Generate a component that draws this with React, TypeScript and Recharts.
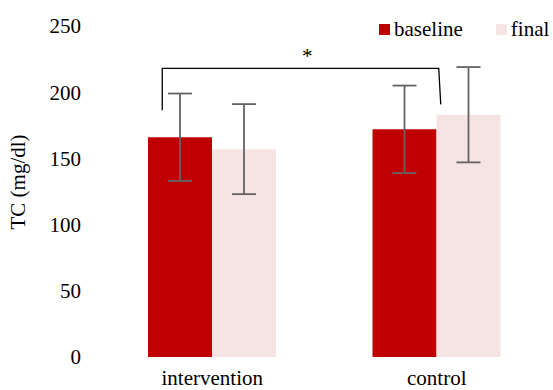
import { BarChart, Bar, XAxis, YAxis, ErrorBar, Legend, Label, ReferenceLine } from 'recharts';

const categories = ['intervention', 'control'];
const baseline = [166, 172];
const baselineErr = [33, 33];
const finalValues = [157, 183];
const finalErr = [34, 36];
const yTicks = [0, 50, 100, 150, 200, 250];
const bracketLevel = 218;

const data = categories.map((name, i) => ({
  name,
  baseline: baseline[i],
  baselineErr: baselineErr[i],
  final: finalValues[i],
  finalErr: finalErr[i],
}));

const FONT = '"Liberation Serif", "Times New Roman", serif';
const RED = '#C00000';
const PINK = '#F6E3E3';
const ERR = '#636363';

function Bracket(props: any) {
  const { x1, y1, x2 } = props;
  const left = x1 - 50;
  const right = x2 + 2;
  return (
    <g>
      <path
        d={`M${left},${y1 + 42} L${left},${y1} L${right},${y1} L${right + 2},${y1 + 36}`}
        fill="none"
        stroke="#000"
        strokeWidth={1.3}
      />
      <text x={left + 145} y={y1 - 5} textAnchor="middle" fontFamily={FONT} fontSize={21} fill="#000">
        *
      </text>
    </g>
  );
}

function LegendBox() {
  const item = (color: string, label: string, gap: number) => (
    <div style={{ display: 'flex', alignItems: 'center', marginRight: gap }}>
      <div style={{ width: 11, height: 11, background: color, marginRight: 4 }} />
      <span style={{ fontFamily: FONT, fontSize: 21, lineHeight: '21px', color: '#000' }}>{label}</span>
    </div>
  );
  return (
    <div style={{ display: 'flex', alignItems: 'center' }}>
      {item(RED, 'baseline', 33)}
      {item(PINK, 'final', 0)}
    </div>
  );
}

export default function App() {
  return (
    <div style={{ position: 'absolute', left: 0, top: 0, width: 553, height: 390, background: '#fff' }}>
      <BarChart
        width={553}
        height={390}
        data={data}
        margin={{ top: 26, right: 4, bottom: 0, left: 0 }}
        barGap={0}
        barSize={64}
      >
        <XAxis
          dataKey="name"
          axisLine={false}
          tickLine={false}
          tickSize={0}
          tickMargin={13}
          height={33}
          tick={{ fontFamily: FONT, fontSize: 21, fill: '#000' }}
        />
        <YAxis
          width={100}
          domain={[0, 250]}
          ticks={yTicks}
          axisLine={false}
          tickLine={false}
          tickSize={0}
          tickMargin={19}
          tick={{ fontFamily: FONT, fontSize: 21, fill: '#000' }}
        >
          <Label
            content={() => (
              <text
                x={18}
                y={182}
                transform="rotate(-90 18 182)"
                textAnchor="middle"
                dominantBaseline="central"
                fontFamily={FONT}
                fontSize={21}
                fill="#000"
              >
                TC (mg/dl)
              </text>
            )}
          />
        </YAxis>
        <Legend
          layout="vertical"
          align="center"
          verticalAlign="middle"
          content={() => <LegendBox />}
          wrapperStyle={{ top: 19, left: 379, width: 'auto', height: 'auto' }}
        />
        <Bar dataKey="baseline" fill={RED} isAnimationActive={false}>
          <ErrorBar dataKey="baselineErr" width={12} stroke={ERR} strokeWidth={1.8} />
        </Bar>
        <Bar dataKey="final" fill={PINK} isAnimationActive={false}>
          <ErrorBar dataKey="finalErr" width={12} stroke={ERR} strokeWidth={1.8} />
        </Bar>
        <ReferenceLine
          segment={[
            { x: 'intervention', y: bracketLevel },
            { x: 'control', y: bracketLevel },
          ]}
          ifOverflow="visible"
          shape={(p: any) => <Bracket {...p} />}
        />
      </BarChart>
    </div>
  );
}
